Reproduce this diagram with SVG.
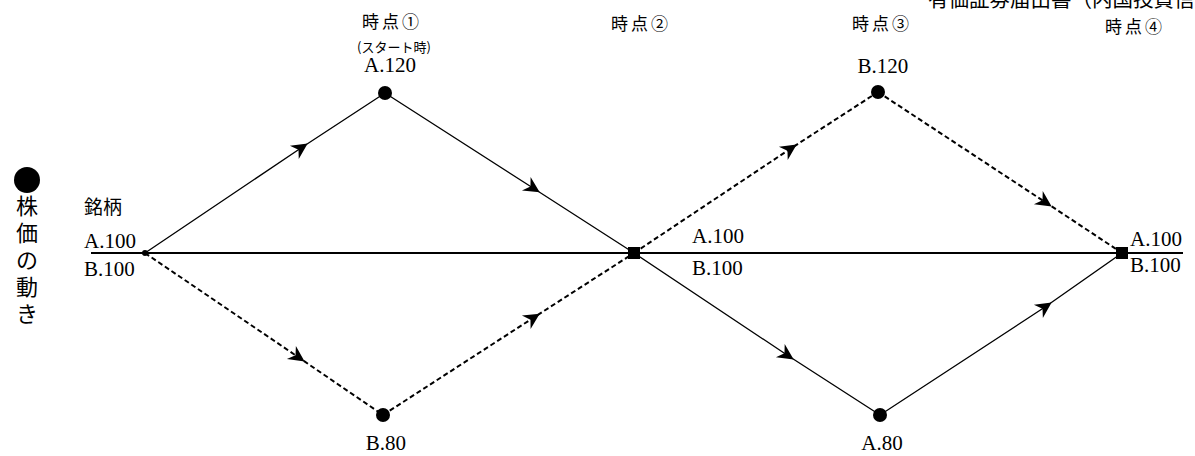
<svg xmlns="http://www.w3.org/2000/svg" width="1195" height="456" viewBox="0 0 1195 456">
<style>
.jp{font-family:"Noto Sans CJK JP","Noto Sans",sans-serif;fill:#000}
.num{font-family:"Liberation Serif","DejaVu Serif",serif;font-size:21px;fill:#000}
.solid{fill:none;stroke:#000;stroke-width:1.3;marker-mid:url(#arr)}
.dash{fill:none;stroke:#000;stroke-width:2;stroke-dasharray:5 3;marker-mid:url(#arr)}
</style>
<defs>
<marker id="arr" markerUnits="userSpaceOnUse" markerWidth="20" markerHeight="20" refX="0" refY="0" viewBox="-10 -10 20 20" orient="auto" overflow="visible">
<path d="M8,0 L-8,-8 L-3,0 L-8,8 Z" fill="#000"/>
</marker>
</defs>
<rect width="1195" height="456" fill="#fff"/>
<text class="jp" x="928" y="7" font-size="20.5">有価証券届出書（内国投資信託受益証券）</text>
<g id="legend">
<circle cx="27" cy="180" r="13" fill="#000"/>
<text class="jp" x="27" y="214" font-size="22" text-anchor="middle">株</text>
<text class="jp" x="27" y="241" font-size="22" text-anchor="middle">価</text>
<text class="jp" x="27" y="268" font-size="22" text-anchor="middle">の</text>
<text class="jp" x="27" y="295" font-size="22" text-anchor="middle">動</text>
<text class="jp" x="27" y="322" font-size="22" text-anchor="middle">き</text>
</g>
<g id="connectors">
<line x1="91" y1="253" x2="1183" y2="253" stroke="#000" stroke-width="2"/>
<path class="solid" d="M145,253 L301,148 L385,93"/>
<path class="solid" d="M385,93 L533,188 L634,253"/>
<path class="solid" d="M634,253 L787,355 L880,415"/>
<path class="solid" d="M880,415 L1045,307 L1122,253"/>
<path class="dash" d="M145,253 L298,357 L383,415"/>
<path class="dash" d="M383,415 L533,318 L634,253"/>
<path class="dash" d="M634,253 L790,149 L878,92"/>
<path class="dash" d="M878,92 L1045,202 L1122,253"/>
</g>
<g id="start">
<circle cx="145" cy="253" r="3" fill="#000"/>
<text class="jp" x="84" y="214" font-size="19">銘柄</text>
<text class="num" x="84" y="248">A.100</text>
<text class="num" x="84" y="276">B.100</text>
</g>
<g id="t1">
<text class="jp" x="392" y="28" font-size="17" text-anchor="middle" letter-spacing="3">時点①</text>
<text class="jp" x="394" y="52" font-size="13" text-anchor="middle">(スタート時)</text>
<text class="num" x="390" y="72" text-anchor="middle">A.120</text>
<circle cx="385" cy="93" r="7" fill="#000"/>
</g>
<g id="b1">
<circle cx="383" cy="415" r="7" fill="#000"/>
<text class="num" x="386" y="450" text-anchor="middle">B.80</text>
</g>
<g id="t2">
<text class="jp" x="641" y="30" font-size="17" text-anchor="middle" letter-spacing="3">時点②</text>
<rect x="628" y="247" width="12" height="12" fill="#000"/>
<text class="num" x="692" y="243">A.100</text>
<text class="num" x="692" y="275">B.100</text>
</g>
<g id="t3">
<text class="jp" x="882" y="30" font-size="17" text-anchor="middle" letter-spacing="3">時点③</text>
<text class="num" x="883" y="73" text-anchor="middle">B.120</text>
<circle cx="878" cy="92" r="7" fill="#000"/>
</g>
<g id="b2">
<circle cx="880" cy="415" r="7" fill="#000"/>
<text class="num" x="882" y="450" text-anchor="middle">A.80</text>
</g>
<g id="t4">
<text class="jp" x="1135" y="33" font-size="17" text-anchor="middle" letter-spacing="3">時点④</text>
<rect x="1116" y="247" width="12" height="12" fill="#000"/>
<text class="num" x="1130" y="246">A.100</text>
<text class="num" x="1130" y="272">B.100</text>
</g>
</svg>
